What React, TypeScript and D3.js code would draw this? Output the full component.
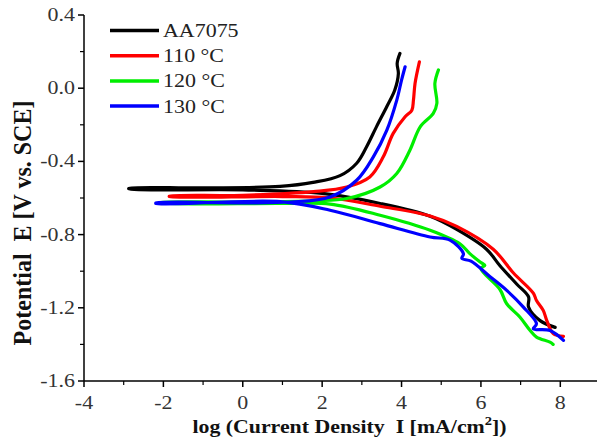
import React from "react";
import * as d3 from "d3";

// Tick values
const xTicks = [-4, -2, 0, 2, 4, 6, 8];
const xMinorTicks = [-3, -1, 1, 3, 5, 7, 9];
const yTicks = [0.4, 0.0, -0.4, -0.8, -1.2, -1.6];
const yMinorTicks = [0.2, -0.2, -0.6, -1.0, -1.4];

const seriesNames = ["AA7075", "110 °C", "120 °C", "130 °C"];
const seriesColors = ["#000000", "#ff0000", "#00ee00", "#0000ff"];

// [logI, E] pairs; anodic branch from Ecorr upward, cathodic branch from Ecorr downward
const aaAnodic: [number, number][] = [
  [-2.87, -0.547], [-1, -0.545], [0.94, -0.537], [1.77, -0.515], [2.45, -0.478], [2.87, -0.41],
  [3.12, -0.32], [3.37, -0.21], [3.63, -0.1], [3.83, -0.01], [3.92, 0.08], [3.89, 0.136], [3.96, 0.19],
];
const aaCathodic: [number, number][] = [
  [-2.87, -0.55], [0, -0.556], [2.0, -0.575], [3.46, -0.63], [4.72, -0.70], [5.39, -0.772],
  [6.14, -0.88], [6.48, -0.97], [6.9, -1.07], [7.2, -1.14], [7.2, -1.196], [7.49, -1.27], [7.87, -1.307],
];
const c110Anodic: [number, number][] = [
  [-1.85, -0.59], [0, -0.585], [1.78, -0.565], [2.62, -0.54], [3.2, -0.485], [3.54, -0.375],
  [3.79, -0.247], [4.09, -0.156], [4.26, -0.12], [4.3, -0.065], [4.34, 0.026], [4.45, 0.144],
];
const c110Cathodic: [number, number][] = [
  [-1.85, -0.592], [1.0, -0.592], [2.2, -0.6], [3.46, -0.645], [4.72, -0.698], [5.39, -0.755],
  [6.31, -0.88], [6.82, -1.01], [7.32, -1.12], [7.4, -1.16], [7.57, -1.214], [7.66, -1.27],
  [7.82, -1.34], [8.08, -1.356],
];
const c120Anodic: [number, number][] = [
  [-2.1, -0.625], [0, -0.622], [1.8, -0.615], [2.62, -0.603], [3.46, -0.54], [3.88, -0.466],
  [4.21, -0.339], [4.47, -0.211], [4.8, -0.138], [4.89, -0.083], [4.84, 0.026], [4.93, 0.1],
];
const c120Cathodic: [number, number][] = [
  [-2.1, -0.627], [1.0, -0.63], [2.2, -0.633], [3.46, -0.694], [4.72, -0.776], [5.47, -0.85],
  [5.72, -0.904], [5.98, -0.95], [6.1, -0.968], [6.0, -0.985], [6.48, -1.1], [6.65, -1.178],
  [6.98, -1.25], [7.24, -1.324], [7.4, -1.36], [7.74, -1.388], [7.82, -1.4],
];
const c130Anodic: [number, number][] = [
  [-2.19, -0.627], [0, -0.627], [1.2, -0.622], [2.2, -0.594], [2.87, -0.503], [3.29, -0.375],
  [3.63, -0.229], [3.88, -0.065], [4.0, 0.044], [4.09, 0.117],
];
const c130Cathodic: [number, number][] = [
  [-2.19, -0.63], [0.94, -0.62], [2.2, -0.667], [3.46, -0.74], [4.72, -0.813], [5.22, -0.83],
  [5.56, -0.905], [5.52, -0.93], [5.75, -0.945], [6.23, -1.03], [6.65, -1.105], [7.07, -1.196],
  [7.4, -1.287], [7.32, -1.315], [7.74, -1.324], [8.08, -1.378],
];

const anodicBranches = [aaAnodic, c110Anodic, c120Anodic, c130Anodic];
const cathodicBranches = [aaCathodic, c110Cathodic, c120Cathodic, c130Cathodic];

const W = 597;
const H = 444;
const x = d3.scaleLinear().domain([-4, 9]).range([84, 600]);
const y = d3.scaleLinear().domain([-1.6, 0.4]).range([381, 15]);

const line = d3
  .line<[number, number]>()
  .x((d) => x(d[0]))
  .y((d) => y(d[1]))
  .curve(d3.curveCatmullRom.alpha(0.5));

const fmtY = (v: number) => (v < 0 ? "-" : "") + Math.abs(v).toFixed(1);
const fmtX = (v: number) => (v < 0 ? "-" : "") + Math.abs(v).toString();
const serif = "'Liberation Serif', 'Times New Roman', serif";
const SX = 1.22; // horizontal stretch of the original figure's text

export default function App() {
  const order = [0, 1, 2, 3];
  return (
    <svg
      width={W}
      height={H}
      style={{ position: "absolute", left: 0, top: 0, background: "#fff" }}
      fontFamily={serif}
    >
      {/* curves */}
      {order.map((i) => {
        const pts = [...anodicBranches[i]].reverse().concat(cathodicBranches[i]);
        return (
          <path
            key={i}
            d={line(pts) || ""}
            fill="none"
            stroke={seriesColors[i]}
            strokeWidth={3.2}
            strokeLinejoin="round"
            strokeLinecap="round"
          />
        );
      })}

      {/* axes */}
      <line x1={84} x2={84} y1={15} y2={381} stroke="#000" strokeWidth={1.5} />
      <line x1={84} x2={600} y1={381} y2={381} stroke="#000" strokeWidth={1.5} />
      {yTicks.map((t) => (
        <g key={"y" + t}>
          <line x1={78} x2={84} y1={y(t)} y2={y(t)} stroke="#000" strokeWidth={1.5} />
          <text
            transform={`translate(75,${y(t) + 6}) scale(${SX},1)`}
            textAnchor="end"
            fontSize={18}
            fill="#333"
          >
            {fmtY(t)}
          </text>
        </g>
      ))}
      {yMinorTicks.map((t) => (
        <line key={"ym" + t} x1={80} x2={84} y1={y(t)} y2={y(t)} stroke="#000" strokeWidth={1.2} />
      ))}
      {xTicks.map((t) => (
        <g key={"x" + t}>
          <line x1={x(t)} x2={x(t)} y1={381} y2={387} stroke="#000" strokeWidth={1.5} />
          <text
            transform={`translate(${x(t)},409) scale(${SX},1)`}
            textAnchor="middle"
            fontSize={18}
            fill="#333"
          >
            {fmtX(t)}
          </text>
        </g>
      ))}
      {xMinorTicks.map((t) => (
        <line key={"xm" + t} x1={x(t)} x2={x(t)} y1={381} y2={385} stroke="#000" strokeWidth={1.2} />
      ))}

      {/* axis titles */}
      <text
        transform={`translate(349.5,433) scale(1.12,1)`}
        textAnchor="middle"
        fontSize={19.5}
        fontWeight="bold"
        fill="#111"
      >
        log (Current Density{"\u00a0\u00a0"}I [mA/cm
        <tspan dy={-8} fontSize={13}>2</tspan>
        <tspan dy={8}>])</tspan>
      </text>
      <text
        transform={`translate(31,223) scale(1.05,1) rotate(-90)`}
        textAnchor="middle"
        fontSize={24}
        fontWeight="bold"
        fill="#111"
      >
        Potential{"\u00a0\u00a0"}E [V vs. SCE]
      </text>

      {/* legend */}
      {seriesNames.map((n, i) => (
        <g key={n}>
          <line
            x1={110}
            x2={159}
            y1={30.5 + i * 25.2}
            y2={30.5 + i * 25.2}
            stroke={seriesColors[i]}
            strokeWidth={3.5}
          />
          <text
            transform={`translate(163,${37 + i * 25.2}) scale(${SX},1)`}
            fontSize={18}
            fill="#222"
          >
            {n}
          </text>
        </g>
      ))}
    </svg>
  );
}
